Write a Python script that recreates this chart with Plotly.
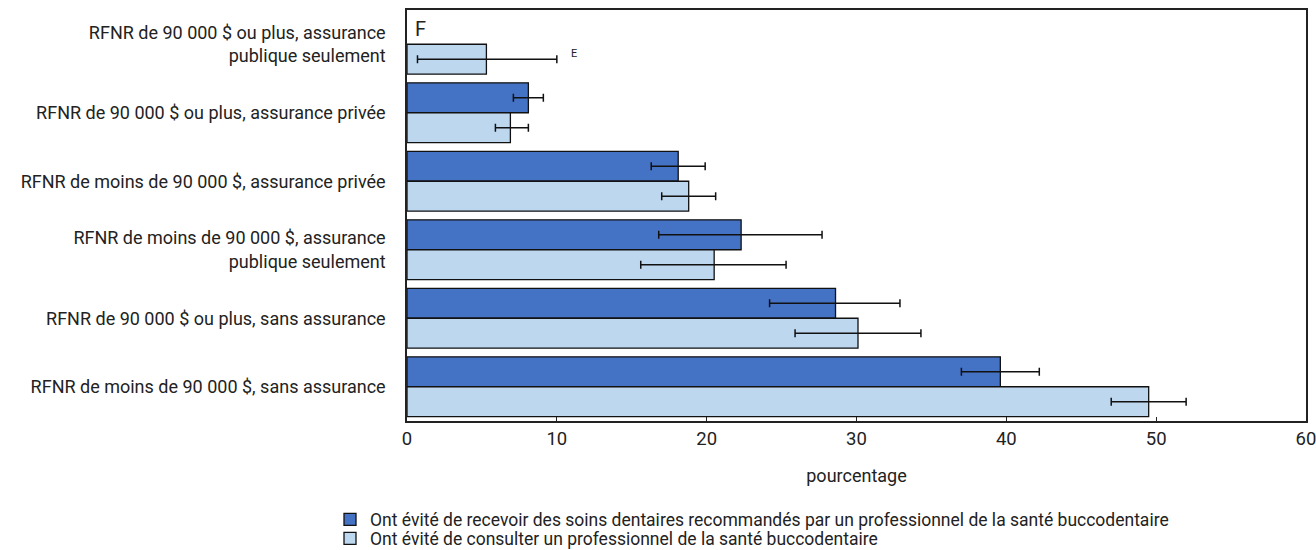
import plotly.graph_objects as go

categories = [
    "RFNR de 90 000 $ ou plus, assurance<br>publique seulement",
    "RFNR de 90 000 $ ou plus, assurance privée",
    "RFNR de moins de 90 000 $, assurance privée",
    "RFNR de moins de 90 000 $, assurance<br>publique seulement",
    "RFNR de 90 000 $ ou plus, sans assurance",
    "RFNR de moins de 90 000 $, sans assurance",
]

# Ont évité de recevoir des soins dentaires recommandés
dark_name = "Ont évité de recevoir des soins dentaires recommandés par un professionnel de la santé buccodentaire"
dark_val = [None, 8.1, 18.1, 22.3, 28.6, 39.6]
dark_lo = [None, 7.1, 16.3, 16.8, 24.2, 37.0]
dark_hi = [None, 9.1, 19.9, 27.7, 32.9, 42.2]

# Ont évité de consulter
light_name = "Ont évité de consulter un professionnel de la santé buccodentaire"
light_val = [5.3, 6.9, 18.8, 20.5, 30.1, 49.5]
light_lo = [0.7, 5.9, 17.0, 15.6, 25.9, 47.0]
light_hi = [10.0, 8.1, 20.6, 25.3, 34.3, 52.0]

x_ticks = [0, 10, 20, 30, 40, 50, 60]

FONT = "Roboto, Liberation Sans, Arial, sans-serif"
TXT = "#222222"


def err(vals, lo, hi):
    plus = [None if v is None else h - v for v, h in zip(vals, hi)]
    minus = [None if v is None else v - l for v, l in zip(vals, lo)]
    return plus, minus


dp, dm = err(dark_val, dark_lo, dark_hi)
lp, lm = err(light_val, light_lo, light_hi)

fig = go.Figure()
fig.add_trace(go.Bar(
    name=dark_name, y=categories, x=dark_val, orientation="h", legend="legend",
    marker=dict(color="#4472C4", line=dict(color="#111111", width=1.3)),
    error_x=dict(type="data", array=dp, arrayminus=dm, color="#111111",
                 thickness=1.5, width=4, visible=True),
))
fig.add_trace(go.Bar(
    name=light_name, y=categories, x=light_val, orientation="h", legend="legend2",
    marker=dict(color="#BDD7EE", line=dict(color="#111111", width=1.3)),
    error_x=dict(type="data", array=lp, arrayminus=lm, color="#111111",
                 thickness=1.5, width=4, visible=True),
))

fig.add_annotation(x=0, y=categories[0], xref="x", yref="y", text="F",
                   showarrow=False, xanchor="left", yanchor="middle",
                   xshift=6, yshift=15, font=dict(size=20, color=TXT, family=FONT))
fig.add_annotation(x=light_hi[0], y=categories[0], xref="x", yref="y", text="E",
                   showarrow=False, xanchor="left", yanchor="middle",
                   xshift=12, yshift=-9, font=dict(size=11, color=TXT, family=FONT))

legend_common = dict(orientation="v", xref="container", yref="container",
                     x=330 / 1316, xanchor="left", yanchor="top",
                     font=dict(size=17.5, color=TXT, family=FONT),
                     bgcolor="rgba(0,0,0,0)")

fig.update_layout(
    width=1316, height=550,
    margin=dict(l=407, r=10, t=10, b=129, autoexpand=False),
    paper_bgcolor="white", plot_bgcolor="white",
    barmode="group", bargap=0.125, bargroupgap=0,
    font=dict(family=FONT, size=18, color=TXT),
    showlegend=True,
    legend=dict(legend_common, y=1 - 501.5 / 550),
    legend2=dict(legend_common, y=1 - 520.5 / 550),
    xaxis=dict(range=[0, 60], tickvals=x_ticks, ticks="inside", ticklen=4,
               tickcolor="#222", showgrid=False, zeroline=False,
               showline=True, linecolor="#222", linewidth=1.5, mirror=True,
               ticklabeloverflow="allow",
               title=dict(text="pourcentage", standoff=20, font=dict(size=18)),
               tickfont=dict(size=18.5)),
    yaxis=dict(autorange="reversed", showgrid=False, zeroline=False,
               showline=True, linecolor="#222", linewidth=1.5, mirror=True,
               ticks="", ticklabelstandoff=16, tickfont=dict(size=18)),
)

fig.write_html("out.html")
